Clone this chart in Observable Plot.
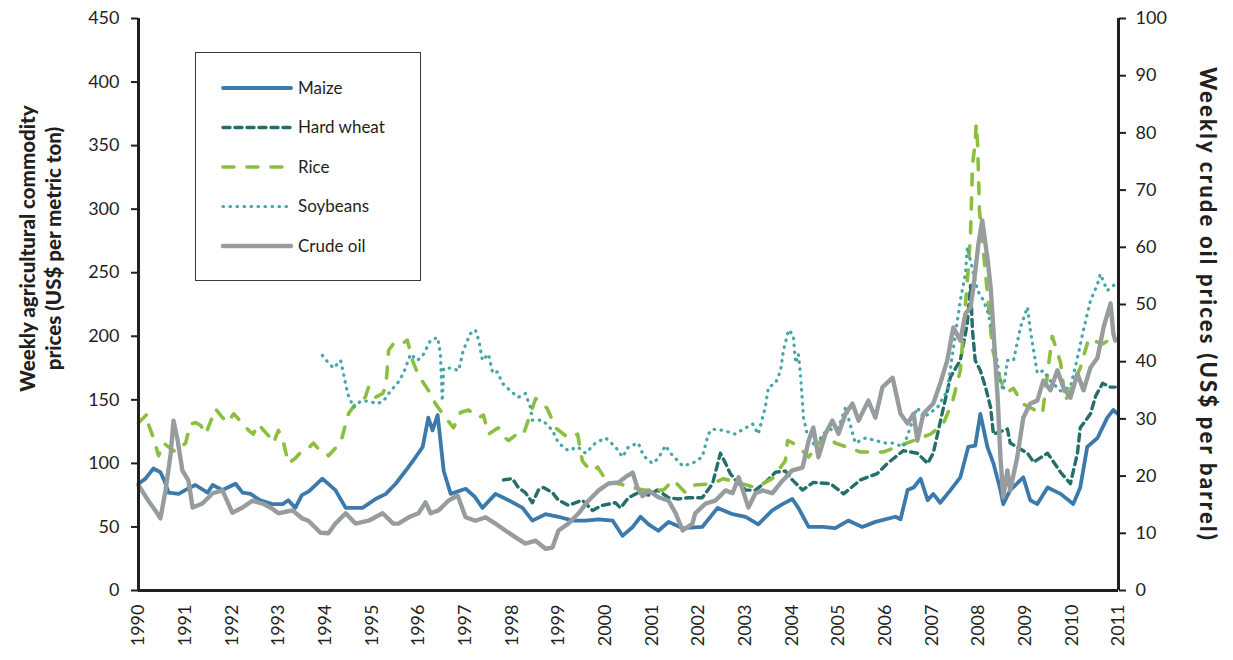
<!DOCTYPE html>
<html><head><meta charset="utf-8">
<script src="https://cdn.jsdelivr.net/npm/d3@7"></script>
<script src="https://cdn.jsdelivr.net/npm/@observablehq/plot@0.6"></script>
<style>
body{margin:0;background:#fff;}
#wrap{position:relative;width:1233px;height:660px;font-family:"Lato","Noto Sans",sans-serif;color:#231f20}
#legend{position:absolute;left:195px;top:52px;width:226px;height:229px;border:1.5px solid #3a3a3a;background:#fff;box-sizing:border-box}
#legend svg{display:block}
</style></head>
<body><div id="wrap"><div id="chart"></div><div id="legend"></div></div>
<script>
// ---- data (year, value) ----
const years = d3.range(1990, 2012);
const leftTicks = d3.range(0, 451, 50);
const rightTicks = d3.range(0, 101, 10);

const maize = [[1990.00,84],[1990.15,88],[1990.32,96],[1990.47,93],[1990.56,86],[1990.64,77],[1990.86,76],[1991.05,80],[1991.22,83],[1991.48,77],[1991.59,83],[1991.80,79],[1992.08,84],[1992.23,77],[1992.40,76],[1992.61,71],[1992.87,68],[1993.09,68],[1993.21,71],[1993.36,65],[1993.50,75],[1993.65,78],[1993.94,88],[1994.22,79],[1994.44,65],[1994.80,65],[1995.08,72],[1995.30,76],[1995.51,84],[1995.72,94],[1995.94,105],[1996.09,113],[1996.21,136],[1996.30,126],[1996.41,138],[1996.47,118],[1996.54,94],[1996.69,76],[1997.01,80],[1997.20,74],[1997.37,65],[1997.65,76],[1997.93,71],[1998.23,65],[1998.44,55],[1998.72,60],[1999.00,58],[1999.30,55],[1999.58,55],[1999.86,56],[2000.16,55],[2000.37,43],[2000.59,50],[2000.76,58],[2000.93,52],[2001.14,47],[2001.36,54],[2001.66,49],[2002.08,50],[2002.41,65],[2002.73,60],[2003.01,58],[2003.28,52],[2003.58,63],[2003.80,68],[2004.01,72],[2004.14,65],[2004.36,50],[2004.66,50],[2004.93,49],[2005.21,55],[2005.51,50],[2005.79,54],[2006.22,58],[2006.33,56],[2006.48,79],[2006.61,81],[2006.76,88],[2006.91,71],[2007.03,76],[2007.18,69],[2007.40,79],[2007.61,89],[2007.78,113],[2007.93,114],[2008.04,139],[2008.19,113],[2008.32,100],[2008.47,79],[2008.53,68],[2008.68,79],[2008.96,89],[2009.11,71],[2009.26,68],[2009.48,81],[2009.76,76],[2010.03,68],[2010.18,81],[2010.33,113],[2010.55,120],[2010.76,136],[2010.89,142],[2010.98,139]];

const hardWheat = [[1997.82,87],[1998.01,88],[1998.14,81],[1998.29,77],[1998.44,69],[1998.57,79],[1998.68,81],[1998.87,77],[1999.00,71],[1999.21,67],[1999.51,71],[1999.73,63],[1999.94,67],[2000.22,69],[2000.33,65],[2000.50,73],[2000.71,77],[2000.93,75],[2001.12,79],[2001.36,73],[2001.57,72],[2001.78,73],[2002.08,73],[2002.30,84],[2002.47,108],[2002.58,100],[2002.68,92],[2002.79,87],[2003.01,79],[2003.22,79],[2003.43,85],[2003.65,93],[2003.86,94],[2004.01,87],[2004.23,79],[2004.46,85],[2004.83,84],[2005.11,76],[2005.47,87],[2005.83,92],[2006.05,100],[2006.39,110],[2006.69,108],[2006.91,100],[2007.03,108],[2007.25,144],[2007.40,168],[2007.61,181],[2007.76,210],[2007.83,240],[2007.87,205],[2007.93,181],[2008.04,173],[2008.15,160],[2008.26,144],[2008.32,123],[2008.62,127],[2008.68,116],[2009.05,108],[2009.18,101],[2009.48,108],[2009.76,93],[2009.97,84],[2010.12,108],[2010.18,128],[2010.40,139],[2010.51,153],[2010.66,163],[2010.83,160],[2010.93,160]];

const rice = [[1990.00,132],[1990.19,139],[1990.21,131],[1990.32,120],[1990.43,106],[1990.54,116],[1990.64,113],[1990.79,109],[1991.01,116],[1991.11,131],[1991.22,132],[1991.33,130],[1991.44,123],[1991.65,143],[1991.80,136],[1991.91,132],[1992.04,139],[1992.14,135],[1992.36,126],[1992.46,123],[1992.57,131],[1992.68,126],[1992.83,120],[1992.89,116],[1993.00,126],[1993.11,116],[1993.21,100],[1993.36,104],[1993.51,110],[1993.64,112],[1993.75,116],[1993.84,112],[1994.01,109],[1994.07,106],[1994.22,112],[1994.33,116],[1994.44,131],[1994.50,139],[1994.65,147],[1994.86,152],[1994.93,160],[1995.08,152],[1995.23,155],[1995.30,160],[1995.36,189],[1995.46,194],[1995.61,193],[1995.76,197],[1995.87,181],[1995.98,171],[1996.11,163],[1996.26,155],[1996.36,147],[1996.58,136],[1996.75,128],[1996.90,140],[1997.07,142],[1997.29,136],[1997.39,138],[1997.50,123],[1997.71,128],[1997.86,120],[1997.93,118],[1998.14,124],[1998.25,123],[1998.51,151],[1998.61,149],[1998.76,143],[1998.94,128],[1999.21,120],[1999.41,123],[1999.51,102],[1999.69,94],[1999.84,97],[2000.05,85],[2000.29,84],[2000.59,81],[2000.82,79],[2001.25,79],[2001.46,87],[2001.72,77],[2001.93,83],[2002.30,84],[2002.53,88],[2003.22,81],[2003.58,88],[2003.86,102],[2003.91,118],[2004.12,114],[2004.36,105],[2004.72,123],[2004.93,116],[2005.47,109],[2005.96,109],[2006.61,118],[2006.97,123],[2007.23,130],[2007.44,148],[2007.61,173],[2007.78,253],[2007.83,281],[2007.85,307],[2007.87,334],[2007.91,347],[2007.93,352],[2007.95,367],[2007.98,352],[2008.00,326],[2008.02,299],[2008.15,250],[2008.30,190],[2008.47,165],[2008.62,156],[2008.75,159],[2008.94,147],[2009.37,139],[2009.58,200],[2009.76,179],[2009.86,149],[2010.18,175],[2010.36,198],[2010.66,194],[2010.93,200]];

const soybeans = [[1993.94,185],[1994.05,180],[1994.18,175],[1994.33,181],[1994.39,171],[1994.48,155],[1994.61,144],[1994.76,149],[1994.91,149],[1995.12,147],[1995.25,149],[1995.40,157],[1995.55,163],[1995.68,171],[1995.83,186],[1995.98,181],[1996.11,186],[1996.26,197],[1996.41,199],[1996.47,186],[1996.51,149],[1996.54,175],[1996.69,175],[1996.86,173],[1996.96,189],[1997.11,202],[1997.22,205],[1997.29,197],[1997.37,181],[1997.50,186],[1997.59,171],[1997.69,172],[1997.80,163],[1997.97,157],[1998.14,152],[1998.29,155],[1998.40,144],[1998.44,134],[1998.66,134],[1998.87,126],[1999.00,116],[1999.21,110],[1999.41,113],[1999.58,108],[1999.79,116],[2000.01,120],[2000.22,113],[2000.37,105],[2000.50,113],[2000.71,116],[2000.82,106],[2001.01,100],[2001.14,104],[2001.29,114],[2001.40,108],[2001.66,98],[2001.87,100],[2002.08,105],[2002.21,123],[2002.30,127],[2002.53,126],[2002.79,123],[2003.01,128],[2003.16,131],[2003.28,123],[2003.43,144],[2003.50,160],[2003.65,163],[2003.76,173],[2003.82,189],[2003.93,205],[2004.03,201],[2004.08,179],[2004.14,186],[2004.18,172],[2004.23,147],[2004.25,136],[2004.33,123],[2004.51,113],[2004.66,123],[2004.78,126],[2005.00,128],[2005.15,144],[2005.36,116],[2005.58,120],[2005.79,118],[2006.01,116],[2006.16,116],[2006.39,113],[2006.69,144],[2006.82,136],[2007.12,144],[2007.33,157],[2007.61,228],[2007.72,249],[2007.76,270],[2007.98,236],[2008.11,228],[2008.21,218],[2008.32,197],[2008.47,165],[2008.53,157],[2008.62,181],[2008.75,181],[2008.90,207],[2009.05,223],[2009.11,205],[2009.26,171],[2009.39,173],[2009.54,165],[2009.76,157],[2009.97,160],[2010.12,183],[2010.25,205],[2010.40,228],[2010.55,241],[2010.61,249],[2010.76,236],[2010.93,241]];

// crude oil in US$ per barrel (right axis)
const crudeOil = [[1990.00,18.4],[1990.21,15.7],[1990.36,14.0],[1990.47,12.6],[1990.58,17.5],[1990.69,23.9],[1990.75,29.7],[1990.84,26.2],[1990.94,21.0],[1991.07,19.2],[1991.16,14.5],[1991.37,15.2],[1991.59,17.0],[1991.80,17.5],[1992.01,13.6],[1992.23,14.5],[1992.44,15.7],[1992.66,15.2],[1992.87,14.3],[1993.00,13.5],[1993.30,14.0],[1993.51,12.6],[1993.64,12.2],[1993.90,10.1],[1994.07,10.0],[1994.22,11.7],[1994.44,13.5],[1994.65,11.7],[1994.93,12.2],[1995.23,13.5],[1995.46,11.7],[1995.57,11.7],[1995.79,12.8],[1996.00,13.5],[1996.15,15.4],[1996.26,13.5],[1996.43,14.0],[1996.64,15.7],[1996.84,16.6],[1997.01,12.8],[1997.22,12.2],[1997.44,12.8],[1997.65,11.7],[1997.86,10.5],[1998.08,9.3],[1998.29,8.2],[1998.51,8.7],[1998.72,7.3],[1998.87,7.5],[1999.00,10.5],[1999.21,11.7],[1999.43,13.5],[1999.64,15.7],[1999.86,17.5],[2000.07,18.7],[2000.29,18.9],[2000.43,19.8],[2000.59,20.6],[2000.69,18.0],[2000.80,16.5],[2000.93,17.5],[2001.14,16.3],[2001.36,15.7],[2001.51,13.5],[2001.66,10.5],[2001.87,11.7],[2001.93,13.5],[2002.15,15.2],[2002.36,15.7],[2002.58,17.5],[2002.73,17.0],[2002.86,19.8],[2003.07,14.5],[2003.22,17.0],[2003.37,17.5],[2003.58,17.0],[2003.80,19.2],[2004.01,21.0],[2004.23,21.5],[2004.36,26.2],[2004.46,28.5],[2004.57,23.3],[2004.72,27.4],[2004.87,29.7],[2005.00,27.4],[2005.15,30.9],[2005.30,32.7],[2005.43,29.7],[2005.64,33.2],[2005.79,30.2],[2005.94,35.5],[2006.16,37.2],[2006.33,30.9],[2006.48,29.2],[2006.61,30.9],[2006.69,26.2],[2006.82,30.9],[2007.03,32.7],[2007.18,36.2],[2007.33,40.2],[2007.46,46.0],[2007.61,43.7],[2007.72,48.4],[2007.83,49.5],[2007.89,53.0],[2008.00,60.7],[2008.08,64.7],[2008.19,58.2],[2008.26,53.0],[2008.32,45.5],[2008.41,33.7],[2008.47,23.3],[2008.53,16.3],[2008.62,21.0],[2008.68,17.5],[2008.83,23.3],[2008.96,30.2],[2009.11,32.7],[2009.26,33.2],[2009.39,36.7],[2009.54,35.0],[2009.69,38.5],[2009.82,35.5],[2009.97,33.7],[2010.12,37.9],[2010.25,35.0],[2010.40,39.0],[2010.55,40.7],[2010.68,46.0],[2010.83,50.2],[2010.89,44.9],[2010.93,43.7]];

const seriesNames = ["Maize", "Hard wheat", "Rice", "Soybeans", "Crude oil"];
const seriesColors = ["#3d7aac", "#256f6b", "#8cbf40", "#46a6a8", "#979c9f"];
const seriesDash = [null, "7,5", "11,13", "0.5,6.5", null];
const seriesWidth = [3.8, 3.4, 3.6, 3.2, 4.4];
const oilScale = 4.5; // 100 $/bbl on right axis = 450 on left axis

const seriesData = [maize, hardWheat, rice, soybeans, crudeOil];
const ink = "#231f20";
const font = '"Lato","Noto Sans",sans-serif';

function lineMark(i) {
  const k = i === 4 ? oilScale : 1;
  return Plot.line(seriesData[i], {
    x: d => d[0], y: d => d[1] * k,
    stroke: seriesColors[i], strokeWidth: seriesWidth[i],
    strokeDasharray: seriesDash[i] || undefined,
    strokeLinecap: "round", strokeLinejoin: "round"
  });
}

const leftTitle = "Weekly agricultural commodity\nprices (US$ per metric ton)";
const rightTitle = "Weekly crude oil prices (US$ per barrel)";

const chart = Plot.plot({
  width: 1233, height: 660,
  marginLeft: 138, marginRight: 115, marginTop: 18, marginBottom: 70,
  style: {fontFamily: font, color: ink, background: "#fff"},
  x: {domain: [1990, 2011], label: null},
  y: {domain: [0, 450], label: null},
  marks: [
    lineMark(0), lineMark(1), lineMark(2), lineMark(3), lineMark(4),
    Plot.ruleY([0], {stroke: ink, strokeWidth: 3}),
    Plot.ruleX([1990, 2011], {stroke: ink, strokeWidth: 3}),
    Plot.axisY({ticks: leftTicks, tickSize: 7, tickPadding: 12, fontSize: 18, strokeWidth: 2, stroke: ink, label: null}),
    Plot.axisY({anchor: "right", ticks: rightTicks.map(d => d * oilScale), tickFormat: d => String(Math.round(d / oilScale)), tickSize: 7, tickPadding: 10, fontSize: 18, strokeWidth: 2, stroke: ink, label: null}),
    Plot.axisX({ticks: years, tickFormat: d => String(d), tickRotate: -90, tickSize: 0, tickPadding: 14, fontSize: 18, label: null}),
    Plot.text([leftTitle], {frameAnchor: "left", textAnchor: "middle", dx: -99, dy: -56, rotate: -90, fontSize: 20.5, fontWeight: "900", lineHeight: 1.3, fill: ink}),
    Plot.text([rightTitle], {frameAnchor: "right", textAnchor: "middle", dx: 89, dy: 0, rotate: 90, fontSize: 22, fontWeight: "900", fill: ink})
  ]
});
document.getElementById("chart").appendChild(chart);
// widen the right title's tracking to match the reference length
d3.select(chart).selectAll("text").filter(function(){ return this.textContent === rightTitle; })
  .attr("letter-spacing", "2.2px");

// legend (HTML overlay built from the series arrays)
const lg = d3.select("#legend").append("svg").attr("width", 224).attr("height", 226);
seriesNames.forEach((name, i) => {
  const g = lg.append("g").attr("transform", `translate(0,${35 + i * 39.5})`);
  g.append("line").attr("x1", 27).attr("x2", 95).attr("y1", 0).attr("y2", 0)
    .attr("stroke", seriesColors[i]).attr("stroke-width", seriesWidth[i])
    .attr("stroke-dasharray", seriesDash[i]).attr("stroke-linecap", "round");
  g.append("text").attr("x", 102).attr("y", 0).attr("dy", "0.35em")
    .attr("font-family", font).attr("font-size", 17).attr("fill", ink).text(name);
});
</script>
</body></html>
